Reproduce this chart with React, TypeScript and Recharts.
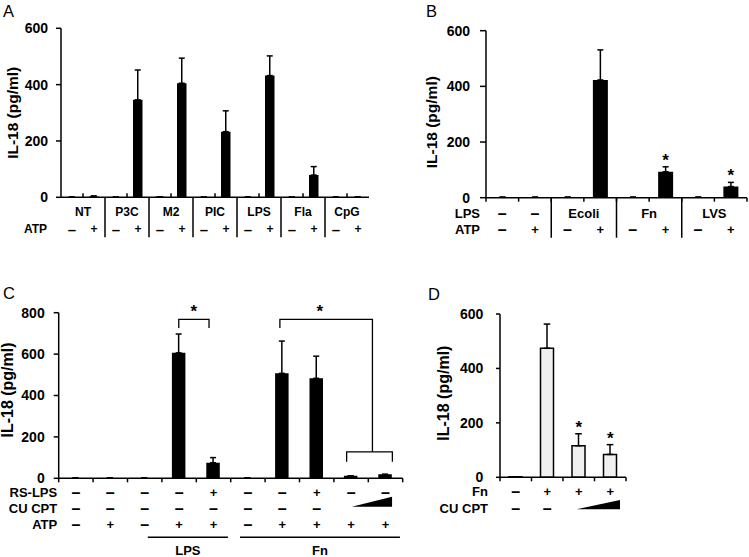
import React from "react";
import {
  Bar,
  BarChart,
  ErrorBar,
  ReferenceArea,
  ReferenceDot,
  XAxis,
  YAxis,
} from "recharts";

const FONT = "'Liberation Sans', Arial, Helvetica, sans-serif";
const M = "–";
const P = "+";

// panel A
const aGroups = ["NT", "NT", "P3C", "P3C", "M2", "M2", "PIC", "PIC", "LPS", "LPS", "Fla", "Fla", "CpG", "CpG"];
const aAtp = [M, P, M, P, M, P, M, P, M, P, M, P, M, P];
const aValues = [1, 3, 1, 346, 2, 405, 1, 233, 1, 432, 1, 79, 1, 1];
const aErrors = [0, 2, 0, 106, 0, 89, 0, 74, 0, 70, 0, 30, 0, 0];

// panel B
const bLps = [M, M, "Ecoli", "Ecoli", "Fn", "Fn", "LVS", "LVS"];
const bAtp = [M, P, M, P, M, P, M, P];
const bValues = [2, 2, 2, 423, 2, 93, 2, 40];
const bErrors = [0, 0, 0, 108, 0, 18, 0, 15];
const bStars = [false, false, false, false, false, true, false, true];

// panel C
const cRsLps = [M, M, M, M, P, M, M, P, M, M];
const cCuCpt = [M, M, M, M, M, M, M, M, "", ""];
const cAtp = [M, P, M, P, P, M, P, P, P, P];
const cValues = [2, 2, 2, 606, 75, 2, 507, 483, 12, 19];
const cErrors = [0, 0, 0, 91, 25, 0, 156, 107, 0, 0];
const cGroups = ["LPS", "Fn"];

// panel D
const dFn = [M, P, P, P];
const dCuCpt = [M, M, "", ""];
const dValues = [2, 474, 116, 84];
const dErrors = [0, 89, 44, 36];
const dStars = [false, false, true, true];

// significance brackets in C: [band position, value] polylines
const cBrackets = [
  [[3.49, 726], [3.49, 768], [4.37, 768], [4.37, 726]],
  [[6.43, 726], [6.43, 768], [9.12, 768], [9.12, 128]],
  [[8.37, 80], [8.37, 128], [9.7, 128], [9.7, 80]],
];
const cBracketStars = [[3.93, 768], [7.59, 768]];

const makeData = (values: number[], errors: number[]) =>
  values.map((v, i) => ({ name: `c${i}`, value: v, err: [0, errors[i]] }));

type Row = { label?: string; dy: number; cells: string[]; merge?: boolean };

type AxisCfg = {
  band: number;
  n: number;
  font: number;
  rowLabelGap: number;
  rows: Row[];
  edgeTicks?: number;
  groupTicksUp?: number;
  separators?: number[];
  sepLen?: number;
  wedges?: { from: number; to: number; top: number; bottom: number }[];
  underlines?: { from: number; to: number; dy: number; label: string; labelDy: number }[];
};

const makeTick = (cfg: AxisCfg) => (props: any) => {
  const { x, y, index } = props;
  const bw = cfg.band;
  const x0 = x - (index + 0.5) * bw;
  const at = (u: number) => x0 + u * bw;
  const txt = (key: string, tx: number, ty: number, s: string, anchor = "middle") => (
    <text
      key={key}
      x={tx}
      y={ty}
      textAnchor={anchor}
      dominantBaseline="central"
      fontFamily={FONT}
      fontWeight="bold"
      fontSize={s === M ? cfg.font + 3 : cfg.font}
      fill="#000"
    >
      {s}
    </text>
  );
  const out: any[] = [];
  const line = (key: string, x1: number, y1: number, x2: number, y2: number) => (
    <line key={key} x1={x1} y1={y1} x2={x2} y2={y2} stroke="#000" strokeWidth={1.5} />
  );

  cfg.rows.forEach((row, r) => {
    const s = row.cells[index];
    if (!s) return;
    if (row.merge && s !== M && s !== P) {
      if (index > 0 && row.cells[index - 1] === s) return;
      let end = index;
      while (end + 1 < cfg.n && row.cells[end + 1] === s) end++;
      out.push(txt(`m${r}`, (at(index) + at(end + 1)) / 2, y + row.dy, s));
    } else {
      out.push(txt(`c${r}`, x, y + row.dy, s));
    }
  });

  if (cfg.edgeTicks) {
    out.push(line("et", at(index), y, at(index), y + cfg.edgeTicks));
    if (index === cfg.n - 1) out.push(line("et2", at(index + 1), y, at(index + 1), y + cfg.edgeTicks));
  }
  if (cfg.groupTicksUp && index % 2 === 1) {
    out.push(line("gt", at(index), y, at(index), y - cfg.groupTicksUp));
  }

  if (index === 0) {
    cfg.rows.forEach((row, r) => {
      if (row.label) out.push(txt(`l${r}`, x0 - cfg.rowLabelGap, y + row.dy, row.label, "end"));
    });
    (cfg.separators || []).forEach((s) => out.push(line(`s${s}`, at(s), y, at(s), y + (cfg.sepLen || 0))));
    (cfg.wedges || []).forEach((w, k) =>
      out.push(
        <polygon
          key={`w${k}`}
          points={`${at(w.from)},${y + w.bottom} ${at(w.to)},${y + w.bottom} ${at(w.to)},${y + w.top}`}
          fill="#000"
        />
      )
    );
    (cfg.underlines || []).forEach((u, k) => {
      out.push(line(`u${k}`, at(u.from), y + u.dy, at(u.to), y + u.dy));
      out.push(txt(`ul${k}`, (at(u.from) + at(u.to)) / 2, y + u.labelDy, u.label));
    });
  }
  return <g>{out}</g>;
};

const starText = (key: string, x: number, y: number) => (
  <text
    key={key}
    x={x}
    y={y}
    textAnchor="middle"
    fontFamily={FONT}
    fontWeight="bold"
    fontSize={17}
    fill="#000"
  >
    *
  </text>
);

// brackets drawn inside the plot box that the library computes for a full-width ReferenceArea
const Brackets = (p: any) => {
  const { x, y, width, height, n, yMax, lines, stars } = p;
  const bx = (u: number) => x + (u * width) / n;
  const by = (v: number) => y + height * (1 - v / yMax);
  return (
    <g>
      {lines.map((b: number[][], k: number) => (
        <polyline
          key={`b${k}`}
          points={b.map((pt) => `${bx(pt[0])},${by(pt[1])}`).join(" ")}
          fill="none"
          stroke="#000"
          strokeWidth={1.3}
        />
      ))}
      {stars.map((s: number[], k: number) => starText(`s${k}`, bx(s[0]), by(s[1]) - 2))}
    </g>
  );
};

type PanelProps = {
  left: number;
  top: number;
  width: number;
  height: number;
  plotTop: number;
  plotRight: number;
  xHeight: number;
  yWidth: number;
  yMax: number;
  yTicks: number[];
  tickSize: number;
  tickMargin: number;
  labelX: number;
  labelShift: number;
  labelFont: number;
  data: any[];
  barSize: number;
  fill: string;
  stroke?: string;
  capHalf: number;
  axis: AxisCfg;
  stars?: boolean[];
  brackets?: number[][][];
  bracketStars?: number[][];
};

const Panel = (p: PanelProps) => {
  const n = p.data.length;
  return (
    <div style={{ position: "absolute", left: p.left, top: p.top }}>
      <BarChart
        width={p.width}
        height={p.height}
        data={p.data}
        margin={{ top: p.plotTop, right: p.plotRight, bottom: 0, left: 0 }}
      >
        <XAxis
          xAxisId="cat"
          dataKey="name"
          type="category"
          height={p.xHeight}
          interval={0}
          tickLine={false}
          tickSize={0}
          tickMargin={0}
          axisLine={{ stroke: "#000", strokeWidth: 1.5 }}
          tick={makeTick(p.axis)}
        />
        <YAxis
          type="number"
          domain={[0, p.yMax]}
          ticks={p.yTicks}
          width={p.yWidth}
          interval={0}
          allowDataOverflow
          tickSize={p.tickSize}
          tickMargin={p.tickMargin}
          axisLine={{ stroke: "#000", strokeWidth: 1.5 }}
          tickLine={{ stroke: "#000", strokeWidth: 1.5 }}
          tick={{ fill: "#000", fontSize: 14, fontWeight: "bold", fontFamily: FONT }}
          label={(lp: any) => {
            const vb = lp.viewBox || { x: 0, y: p.plotTop, height: p.height - p.plotTop - p.xHeight };
            const lx = vb.x + p.labelX;
            const ly = vb.y + vb.height / 2 + p.labelShift;
            return (
              <text
                x={lx}
                y={ly}
                transform={`rotate(-90, ${lx}, ${ly})`}
                textAnchor="middle"
                dominantBaseline="central"
                fontFamily={FONT}
                fontWeight="bold"
                fontSize={p.labelFont}
                fill="#000"
              >
                IL-18 (pg/ml)
              </text>
            );
          }}
        />
        <Bar
          xAxisId="cat"
          dataKey="value"
          fill={p.fill}
          stroke={p.stroke || "none"}
          strokeWidth={p.stroke ? 1.5 : 0}
          barSize={p.barSize}
          isAnimationActive={false}
        >
          <ErrorBar
            dataKey="err"
            direction="y"
            width={p.capHalf}
            stroke="#000"
            strokeWidth={1.5}
            isAnimationActive={false}
          />
        </Bar>
        {(p.stars || []).map((s, i) =>
          s ? (
            <ReferenceDot
              key={`st${i}`}
              xAxisId="cat"
              x={p.data[i].name}
              y={p.data[i].value + p.data[i].err[1]}
              r={3}
              ifOverflow="visible"
              shape={(sp: any) => starText(`st${i}`, sp.cx, sp.cy - 1)}
            />
          ) : null
        )}
        {p.brackets ? (
          <ReferenceArea
            xAxisId="cat"
            x1={p.data[0].name}
            x2={p.data[n - 1].name}
            y1={0}
            y2={p.yMax}
            ifOverflow="visible"
            shape={(sp: any) => (
              <Brackets {...sp} n={n} yMax={p.yMax} lines={p.brackets} stars={p.bracketStars || []} />
            )}
          />
        ) : null}
      </BarChart>
    </div>
  );
};

const letter = { fontFamily: FONT, fontSize: 16.5, fill: "#000" };

export default function App() {
  return (
    <div style={{ position: "absolute", left: 0, top: 0, width: 749, height: 557, background: "#fff" }}>
      <Panel
        left={0}
        top={0}
        width={380}
        height={260}
        plotTop={28.3}
        plotRight={11}
        xHeight={62.7}
        yWidth={61}
        yMax={600}
        yTicks={[0, 200, 400, 600]}
        tickSize={5}
        tickMargin={8}
        labelX={12.5}
        labelShift={0}
        labelFont={15.5}
        data={makeData(aValues, aErrors)}
        barSize={9.5}
        fill="#000"
        capHalf={3}
        axis={{
          band: 22,
          n: 14,
          font: 12,
          rowLabelGap: 14,
          rows: [
            { dy: 15, cells: aGroups, merge: true },
            { label: "ATP", dy: 32, cells: aAtp },
          ],
          groupTicksUp: 4,
          separators: [2, 4, 6, 8, 10, 12],
          sepLen: 40,
        }}
      />
      <Panel
        left={380}
        top={0}
        width={369}
        height={260}
        plotTop={30.7}
        plotRight={2}
        xHeight={62.3}
        yWidth={106}
        yMax={600}
        yTicks={[0, 200, 400, 600]}
        tickSize={6}
        tickMargin={10}
        labelX={51.7}
        labelShift={8}
        labelFont={15.5}
        data={makeData(bValues, bErrors)}
        barSize={15}
        fill="#000"
        capHalf={3}
        stars={bStars}
        axis={{
          band: 261 / 8,
          n: 8,
          font: 13,
          rowLabelGap: 6,
          rows: [
            { label: "LPS", dy: 15.5, cells: bLps, merge: true },
            { label: "ATP", dy: 31.5, cells: bAtp },
          ],
          edgeTicks: 4,
          separators: [2, 4, 6],
          sepLen: 40,
        }}
      />
      <Panel
        left={0}
        top={270}
        width={420}
        height={287}
        plotTop={42.7}
        plotRight={17.3}
        xHeight={78.7}
        yWidth={58.7}
        yMax={800}
        yTicks={[0, 200, 400, 600, 800]}
        tickSize={5}
        tickMargin={9}
        labelX={7.5}
        labelShift={-5.5}
        labelFont={16}
        data={makeData(cValues, cErrors)}
        barSize={13.5}
        fill="#000"
        capHalf={3}
        brackets={cBrackets}
        bracketStars={cBracketStars}
        axis={{
          band: 344 / 10,
          n: 10,
          font: 13,
          rowLabelGap: 1.5,
          rows: [
            { label: "RS-LPS", dy: 14, cells: cRsLps },
            { label: "CU CPT", dy: 30, cells: cCuCpt },
            { label: "ATP", dy: 46, cells: cAtp },
          ],
          edgeTicks: 4,
          wedges: [{ from: 8.52, to: 9.69, top: 18.4, bottom: 28.4 }],
          underlines: [
            { from: 2.59, to: 4.92, dy: 59, label: cGroups[0], labelDy: 72 },
            { from: 5.27, to: 9.92, dy: 59, label: cGroups[1], labelDy: 72 },
          ],
        }}
      />
      <Panel
        left={420}
        top={270}
        width={329}
        height={287}
        plotTop={44}
        plotRight={123}
        xHeight={79.7}
        yWidth={80}
        yMax={600}
        yTicks={[0, 200, 400, 600]}
        tickSize={4}
        tickMargin={12.7}
        labelX={24}
        labelShift={-2.5}
        labelFont={16}
        data={makeData(dValues, dErrors)}
        barSize={13}
        fill="#f0f0f0"
        stroke="#000"
        capHalf={3.3}
        stars={dStars}
        axis={{
          band: 126 / 4,
          n: 4,
          font: 13,
          rowLabelGap: 12,
          rows: [
            { label: "Fn", dy: 14, cells: dFn },
            { label: "CU CPT", dy: 31, cells: dCuCpt },
          ],
          edgeTicks: 4,
          wedges: [{ from: 2.43, to: 3.81, top: 22.7, bottom: 32 }],
        }}
      />
      <svg
        width={749}
        height={557}
        style={{ position: "absolute", left: 0, top: 0, pointerEvents: "none" }}
      >
        <text x={3} y={17} {...letter}>A</text>
        <text x={426} y={17} {...letter}>B</text>
        <text x={3} y={298.5} {...letter}>C</text>
        <text x={428} y={299.5} {...letter}>D</text>
      </svg>
    </div>
  );
}
